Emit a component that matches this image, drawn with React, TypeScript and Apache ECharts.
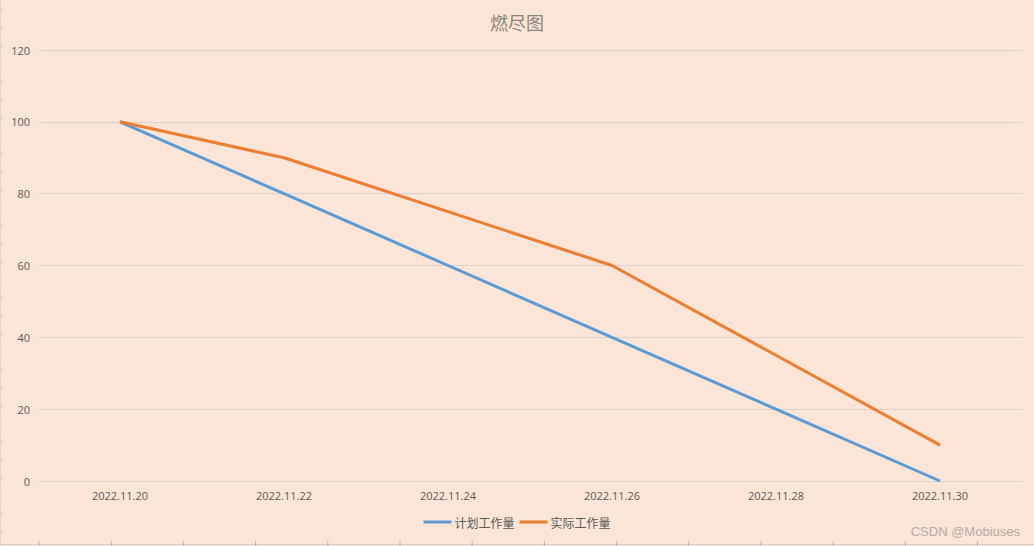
import React, { useEffect, useRef } from "react";
import * as echarts from "echarts";

const dateLabels = ["2022.11.20", "2022.11.22", "2022.11.24", "2022.11.26", "2022.11.28", "2022.11.30"];
const dayNumbers = [20, 22, 24, 26, 28, 30];
const plannedWork = [100, 80, 60, 40, 20, 0];
const actualWork = [100, 90, 75, 60, 35, 10];
const seriesNames = ["计划工作量", "实际工作量"];

export default function App() {
  const ref = useRef<HTMLDivElement>(null);
  useEffect(() => {
    if (!ref.current) return;
    const chart = echarts.init(ref.current, null, { renderer: "svg" });
    const labelFor: Record<number, string> = {};
    dayNumbers.forEach((d, i) => (labelFor[d] = dateLabels[i]));

    const deco: any[] = [];
    // spreadsheet cell border remnants
    deco.push({ type: "line", shape: { x1: 0, y1: 544.5, x2: 1034, y2: 544.5 }, style: { stroke: "#d0d0d0", lineWidth: 1 } });
    deco.push({ type: "line", shape: { x1: 0.5, y1: 0, x2: 0.5, y2: 546 }, style: { stroke: "#e0d6cf", lineWidth: 1 } });
    for (let i = 0; i < 15; i++) {
      const x = 39 + i * 72.2;
      deco.push({ type: "line", shape: { x1: x, y1: 541, x2: x, y2: 546 }, style: { stroke: "#b8b8b8", lineWidth: 1 } });
    }
    for (let i = 0; i < 31; i++) {
      const y = 10 + i * 18;
      deco.push({ type: "line", shape: { x1: 0, y1: y, x2: 3, y2: y }, style: { stroke: "#cfc6c0", lineWidth: 1 } });
    }
    deco.push({
      type: "text",
      right: 14,
      top: 525,
      style: {
        text: "CSDN @Mobiuses",
        font: "13px Arial, 'Liberation Sans', sans-serif",
        fill: "#b3aca7",
      },
    });

    chart.setOption({
      animation: false,
      backgroundColor: "#FBE5D6",
      title: {
        text: "燃尽图",
        left: "center",
        top: 8,
        textStyle: {
          fontFamily: "'Noto Sans CJK SC', sans-serif",
          fontSize: 18,
          fontWeight: "normal",
          color: "#8c8580",
        },
      },
      grid: { left: 38, right: 12, top: 50, bottom: 65 },
      legend: {
        bottom: 13,
        left: "center",
        icon: "rect",
        itemWidth: 28,
        itemHeight: 3,
        itemGap: 5,
        textStyle: {
          fontFamily: "'Noto Sans CJK SC', sans-serif",
          fontSize: 12,
          color: "#595959",
          padding: [0, 0, 0, -2],
        },
        data: seriesNames,
      },
      xAxis: {
        type: "value",
        min: 19,
        max: 31,
        interval: 1,
        axisLine: { show: false },
        axisTick: { show: false },
        splitLine: { show: false },
        axisLabel: {
          showMinLabel: false,
          showMaxLabel: false,
          margin: 9,
          fontSize: 11,
          color: "#595959",
          fontFamily: "'Open Sans', 'DejaVu Sans', sans-serif",
          formatter: (v: number) => labelFor[v] || "",
        },
      },
      yAxis: {
        type: "value",
        min: 0,
        max: 120,
        interval: 20,
        axisLine: { show: false },
        axisTick: { show: false },
        splitLine: { lineStyle: { color: "#d9d2cc", width: 1 } },
        axisLabel: {
          margin: 8,
          fontSize: 11,
          color: "#595959",
          fontFamily: "'Open Sans', 'DejaVu Sans', sans-serif",
        },
      },
      series: [
        {
          name: seriesNames[0],
          type: "line",
          showSymbol: false,
          symbol: "none",
          lineStyle: { color: "#5B9BD5", width: 3 },
          itemStyle: { color: "#5B9BD5" },
          data: dayNumbers.map((d, i) => [d, plannedWork[i]]),
        },
        {
          name: seriesNames[1],
          type: "line",
          showSymbol: false,
          symbol: "none",
          lineStyle: { color: "#ED7D31", width: 3 },
          itemStyle: { color: "#ED7D31" },
          data: dayNumbers.map((d, i) => [d, actualWork[i]]),
        },
      ],
      graphic: deco,
    });
    return () => chart.dispose();
  }, []);
  return (
    <div
      ref={ref}
      style={{ position: "fixed", left: 0, top: 0, width: 1034, height: 546 }}
    />
  );
}
